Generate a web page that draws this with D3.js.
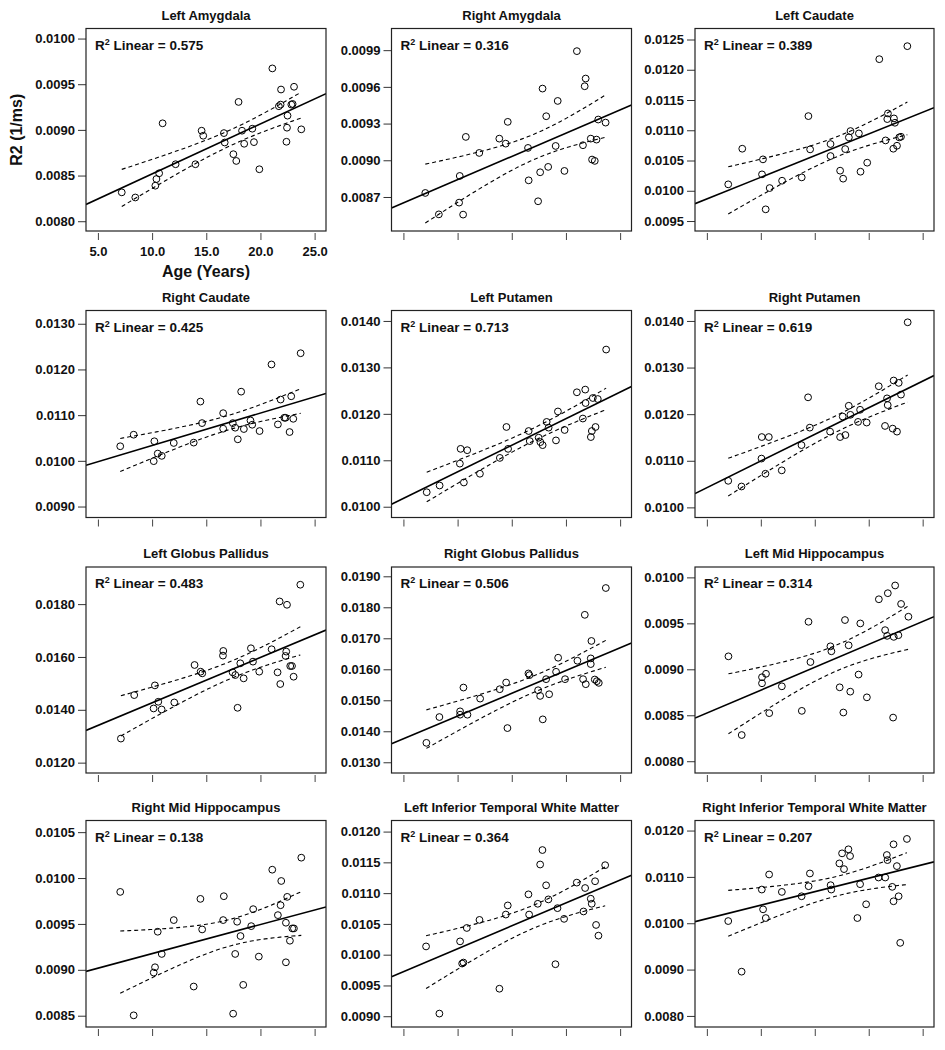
<!DOCTYPE html>
<html><head><meta charset="utf-8">
<script src="https://cdn.jsdelivr.net/npm/d3@7/dist/d3.min.js"></script>
<style>
body{margin:0;background:#fff;}
text{font-family:"Liberation Sans",Arial,sans-serif;fill:#111;}
</style></head>
<body><svg id="c" width="945" height="1050"></svg>
<script>
// ---- data: [age (years), R2 (1/ms)] ----
const leftAmygdala = [[7.2,0.008316],[8.45,0.00826],[10.3,0.008389],[10.4,0.008462],[10.65,0.008525],[10.97,0.009072],[12.17,0.008624],[14.0,0.008624],[14.57,0.008991],[14.72,0.008936],[16.63,0.008965],[16.7,0.008862],[17.5,0.008734],[17.77,0.00866],[17.98,0.009306],[18.3,0.008991],[18.5,0.008848],[19.25,0.009013],[19.4,0.008866],[19.9,0.008569],[21.1,0.009673],[21.7,0.009259],[21.9,0.009442],[21.86,0.009277],[22.45,0.009024],[22.4,0.00887],[22.5,0.009156],[22.85,0.009277],[23.1,0.009472],[22.97,0.009284],[23.77,0.009006]];
const rightAmygdala = [[7.02,0.008733],[8.27,0.008558],[10.2,0.008872],[10.14,0.008654],[10.51,0.008556],[10.76,0.009191],[12.0,0.00906],[13.85,0.009177],[14.44,0.009136],[14.63,0.009314],[16.5,0.009101],[16.56,0.008836],[17.43,0.008665],[17.62,0.008902],[17.84,0.009586],[18.18,0.00936],[18.36,0.008946],[19.05,0.009117],[19.24,0.009485],[19.86,0.008913],[21.01,0.009892],[21.57,0.009123],[21.73,0.009605],[21.82,0.009668],[22.29,0.009177],[22.41,0.009006],[22.66,0.008995],[22.82,0.009169],[22.98,0.009333],[23.66,0.009308]];
const leftCaudate = [[6.98,0.010106],[8.28,0.010695],[10.11,0.010271],[10.2,0.010519],[10.82,0.010045],[10.45,0.009693],[11.97,0.010166],[13.79,0.010221],[14.41,0.011234],[14.57,0.010684],[16.46,0.010772],[16.46,0.010574],[17.35,0.010332],[17.63,0.0102],[17.82,0.010689],[18.16,0.010882],[18.31,0.010987],[19.09,0.010948],[19.24,0.010315],[19.86,0.010464],[20.98,0.012175],[21.56,0.010832],[21.72,0.011185],[21.78,0.011278],[22.28,0.010695],[22.34,0.011196],[22.43,0.011124],[22.62,0.010744],[22.83,0.010882],[22.99,0.010893],[23.58,0.01239]];
const rightCaudate = [[7.06,0.010319],[8.3,0.010572],[10.21,0.010428],[10.52,0.010159],[10.89,0.010109],[10.15,0.009993],[12.0,0.010391],[13.84,0.010399],[14.46,0.011297],[14.61,0.010826],[16.56,0.011043],[16.56,0.010703],[17.45,0.010826],[17.67,0.010725],[17.91,0.010471],[18.22,0.011514],[18.47,0.010696],[19.08,0.010884],[19.24,0.01079],[19.92,0.010652],[21.02,0.012109],[21.61,0.010797],[21.86,0.011341],[22.2,0.010942],[22.32,0.010942],[22.69,0.01063],[22.84,0.011413],[23.03,0.01092],[23.71,0.012355]];
const leftPutamen = [[7.15,0.010312],[8.34,0.010457],[10.21,0.010928],[10.28,0.011246],[10.89,0.011217],[10.58,0.010522],[12.06,0.01071],[13.9,0.011051],[14.51,0.011717],[14.66,0.011246],[16.56,0.01163],[16.66,0.011413],[17.48,0.011486],[17.64,0.011391],[17.85,0.011326],[18.22,0.011826],[18.4,0.011703],[19.08,0.011428],[19.26,0.012051],[19.88,0.011652],[21.01,0.012464],[21.56,0.011899],[21.78,0.012522],[21.81,0.012232],[22.3,0.0115],[22.39,0.01163],[22.48,0.012341],[22.73,0.011717],[22.94,0.012319],[23.71,0.013384]];
const rightPutamen = [[6.98,0.01057],[8.21,0.010448],[10.09,0.011509],[10.74,0.011509],[10.06,0.011047],[10.43,0.010722],[11.94,0.010794],[13.77,0.011336],[14.38,0.012361],[14.54,0.011711],[16.42,0.011625],[17.35,0.011509],[17.84,0.011552],[17.59,0.011949],[18.15,0.01218],[18.3,0.011986],[19.01,0.011834],[19.2,0.012094],[19.81,0.01182],[20.93,0.012599],[21.51,0.011747],[21.7,0.012339],[21.76,0.012195],[22.22,0.01169],[22.31,0.012722],[22.62,0.011625],[22.78,0.012671],[22.99,0.012419],[23.61,0.013971]];
const leftGlobusPallidus = [[7.12,0.012911],[8.35,0.014557],[10.26,0.014924],[10.14,0.014051],[10.57,0.014304],[10.88,0.014013],[12.05,0.014278],[13.92,0.015696],[14.48,0.015443],[14.63,0.01538],[16.57,0.016228],[16.54,0.016051],[17.43,0.015418],[17.68,0.015316],[17.89,0.014076],[18.14,0.01576],[18.45,0.01519],[19.12,0.016329],[19.31,0.015823],[19.89,0.015443],[21.03,0.016291],[21.58,0.015418],[21.83,0.014975],[21.77,0.018101],[22.38,0.016203],[22.45,0.017975],[22.32,0.016038],[22.75,0.015658],[22.91,0.015658],[23.06,0.015253],[23.68,0.018734]];
const rightGlobusPallidus = [[7.12,0.013627],[8.32,0.014459],[10.23,0.014643],[10.23,0.014535],[10.54,0.015411],[10.91,0.014535],[12.08,0.015054],[13.89,0.015357],[14.48,0.015573],[14.6,0.014103],[16.54,0.015865],[16.63,0.015811],[17.43,0.015324],[17.62,0.015141],[17.86,0.014384],[18.17,0.015681],[18.45,0.015195],[19.09,0.015919],[19.28,0.016373],[19.92,0.015681],[21.06,0.016276],[21.74,0.017757],[21.58,0.015681],[21.83,0.015519],[22.29,0.016168],[22.35,0.016914],[22.29,0.016351],[22.66,0.01567],[22.85,0.015616],[23.03,0.015562],[23.68,0.018622]];
const leftMidHippocampus = [[7.0,0.009141],[8.23,0.008285],[10.11,0.008848],[10.48,0.008951],[10.11,0.008914],[10.78,0.008523],[11.95,0.008815],[13.8,0.008548],[14.42,0.009517],[14.6,0.009079],[16.45,0.00925],[16.54,0.009196],[17.31,0.008804],[17.65,0.00853],[17.8,0.009536],[18.14,0.009261],[18.29,0.008757],[19.06,0.008943],[19.22,0.009499],[19.83,0.008695],[20.94,0.009762],[21.52,0.009426],[21.77,0.009828],[21.71,0.009364],[22.26,0.008475],[22.32,0.009353],[22.45,0.009912],[22.75,0.009371],[23.0,0.009711],[23.68,0.009572]];
const rightMidHippocampus = [[7.06,0.009849],[8.3,0.008504],[10.52,0.009415],[10.89,0.009173],[10.27,0.009028],[10.15,0.00897],[12.0,0.009542],[13.84,0.008818],[14.46,0.009773],[14.62,0.00944],[16.62,0.009802],[16.56,0.009542],[17.48,0.008522],[17.67,0.009173],[17.85,0.009524],[18.16,0.009368],[18.41,0.008836],[19.15,0.009476],[19.33,0.009661],[19.85,0.009144],[21.09,0.010091],[21.61,0.009596],[21.86,0.009704],[21.92,0.009968],[22.35,0.009513],[22.35,0.009082],[22.47,0.009795],[22.72,0.009317],[22.94,0.009451],[23.09,0.009451],[23.77,0.010222]];
const leftInfTemporalWM = [[7.09,0.010134],[8.32,0.009043],[10.23,0.010216],[10.42,0.009856],[10.54,0.009872],[10.85,0.010434],[12.02,0.010565],[13.86,0.009447],[14.45,0.010652],[14.63,0.0108],[16.54,0.01098],[16.6,0.010652],[17.4,0.010827],[17.62,0.011465],[17.83,0.0117],[18.17,0.011127],[18.38,0.010898],[19.03,0.009845],[19.22,0.010756],[19.83,0.010582],[21.0,0.011171],[21.62,0.010702],[21.77,0.011083],[22.29,0.010909],[22.38,0.010827],[22.69,0.011193],[22.78,0.010483],[23.0,0.010309],[23.62,0.011454]];
const rightInfTemporalWM = [[6.98,0.010047],[8.22,0.008955],[10.09,0.010727],[10.77,0.011052],[10.21,0.0103],[10.46,0.010112],[11.95,0.010676],[13.78,0.010582],[14.43,0.010799],[14.55,0.011074],[16.47,0.010821],[16.53,0.010727],[17.28,0.011291],[17.53,0.011508],[17.71,0.011168],[18.12,0.011595],[18.27,0.01145],[18.95,0.010112],[19.2,0.010843],[19.76,0.010409],[20.91,0.010987],[21.53,0.010987],[21.68,0.011472],[21.74,0.011363],[22.18,0.010785],[22.3,0.010474],[22.3,0.011703],[22.61,0.011233],[22.77,0.010582],[22.92,0.009577],[23.54,0.011819]];

const panelTitles = ["Left Amygdala","Right Amygdala","Left Caudate","Right Caudate","Left Putamen","Right Putamen","Left Globus Pallidus","Right Globus Pallidus","Left Mid Hippocampus","Right Mid Hippocampus","Left Inferior Temporal White Matter","Right Inferior Temporal White Matter"];
const r2Values = ["0.575","0.316","0.389","0.425","0.713","0.619","0.483","0.506","0.314","0.138","0.364","0.207"];
const yTickLists = [
  [0.0080,0.0085,0.0090,0.0095,0.0100],
  [0.0087,0.0090,0.0093,0.0096,0.0099],
  [0.0095,0.0100,0.0105,0.0110,0.0115,0.0120,0.0125],
  [0.0090,0.0100,0.0110,0.0120,0.0130],
  [0.0100,0.0110,0.0120,0.0130,0.0140],
  [0.0100,0.0110,0.0120,0.0130,0.0140],
  [0.0120,0.0140,0.0160,0.0180],
  [0.0130,0.0140,0.0150,0.0160,0.0170,0.0180,0.0190],
  [0.0080,0.0085,0.0090,0.0095,0.0100],
  [0.0085,0.0090,0.0095,0.0100,0.0105],
  [0.0090,0.0095,0.0100,0.0105,0.0110,0.0115,0.0120],
  [0.0080,0.0090,0.0100,0.0110,0.0120]
];
const yDomains = [
  [0.007893,0.01011],[0.008422,0.010077],[0.009335,0.012682],
  [0.00876,0.01329],[0.009768,0.014225],[0.009783,0.014224],
  [0.011608,0.019405],[0.012654,0.0193],[0.007872,0.010113],
  [0.008377,0.010627],[0.008825,0.01218],[0.007761,0.012217]
];
const xDomain = [3.9, 26.05];
const xTicks = [5,10,15,20,25];
const xTickLabels = ["5.0","10.0","15.0","20.0","25.0"];
const tCrit = 2.045; // 95% CI of the mean fit
const series = [leftAmygdala,rightAmygdala,leftCaudate,rightCaudate,leftPutamen,rightPutamen,leftGlobusPallidus,rightGlobusPallidus,leftMidHippocampus,rightMidHippocampus,leftInfTemporalWM,rightInfTemporalWM];

// ---- layout ----
const colX = [[86,326],[391.5,631.5],[695,934]];
const rowY = [[28.5,231],[310.5,517.5],[567,773],[820.5,1027]];

const svg = d3.select("#c");
svg.append("rect").attr("width",945).attr("height",1050).attr("fill","#fff");

function fit(data){
  const n=data.length, mx=d3.mean(data,d=>d[0]), my=d3.mean(data,d=>d[1]);
  let sxx=0,sxy=0; data.forEach(d=>{sxx+=(d[0]-mx)**2; sxy+=(d[0]-mx)*(d[1]-my);});
  const b=sxy/sxx, a=my-b*mx;
  let sse=0; data.forEach(d=>{sse+=(d[1]-a-b*d[0])**2;});
  const s=Math.sqrt(sse/(n-2));
  return {a,b,s,n,mx,sxx};
}

series.forEach((data,i)=>{
  const c=i%3, r=Math.floor(i/3);
  const [x0,x1]=colX[c], [y0,y1]=rowY[r];
  const x=d3.scaleLinear().domain(xDomain).range([x0,x1]);
  const y=d3.scaleLinear().domain(yDomains[i]).range([y1,y0]);
  const g=svg.append("g");
  const clipId="clip"+i;
  g.append("clipPath").attr("id",clipId).append("rect").attr("x",x0).attr("y",y0).attr("width",x1-x0).attr("height",y1-y0);

  // title
  g.append("text").attr("x",(x0+x1)/2).attr("y",y0-9).attr("text-anchor","middle")
    .attr("font-size",13).attr("font-weight","bold").text(panelTitles[i]);

  // y axis
  const ya=g.append("g").attr("transform",`translate(${x0},0)`)
    .call(d3.axisLeft(y).tickValues(yTickLists[i]).tickFormat(d3.format(".4f")).tickSize(8).tickPadding(3));
  ya.select(".domain").remove();
  ya.selectAll("line").attr("stroke","#333");
  ya.selectAll("text").attr("font-size",13).attr("font-weight","bold").attr("font-family","Liberation Sans, Arial, sans-serif").attr("fill","#111");

  // x axis (ticks below frame, gap)
  const xa=g.append("g").attr("transform",`translate(0,${y1+2})`)
    .call(d3.axisBottom(x).tickValues(xTicks).tickSize(7).tickFormat((d,k)=> i===0?xTickLabels[k]:""));
  xa.select(".domain").remove();
  xa.selectAll("line").attr("stroke","#444");
  xa.selectAll("text").attr("font-size",13).attr("font-weight","bold").attr("font-family","Liberation Sans, Arial, sans-serif").attr("fill","#111").attr("dy","1.0em");

  // regression + CI
  const f=fit(data);
  const pg=g.append("g").attr("clip-path",`url(#${clipId})`);
  pg.append("line").attr("x1",x(xDomain[0])).attr("x2",x(xDomain[1]))
    .attr("y1",y(f.a+f.b*xDomain[0])).attr("y2",y(f.a+f.b*xDomain[1]))
    .attr("stroke","#000").attr("stroke-width",1.6);
  const ext=d3.extent(data,d=>d[0]);
  const xs=d3.range(0,61).map(k=>ext[0]+(ext[1]-ext[0])*k/60);
  [1,-1].forEach(sg=>{
    const pts=xs.map(xv=>{
      const se=f.s*Math.sqrt(1/f.n+(xv-f.mx)**2/f.sxx);
      return [xv,f.a+f.b*xv+sg*tCrit*se];
    });
    pg.append("path").attr("d",d3.line().x(d=>x(d[0])).y(d=>y(d[1]))(pts))
      .attr("fill","none").attr("stroke","#000").attr("stroke-width",1.1).attr("stroke-dasharray","4,3");
  });

  // points
  pg.selectAll("circle").data(data).join("circle")
    .attr("cx",d=>x(d[0])).attr("cy",d=>y(d[1])).attr("r",3.4)
    .attr("fill","none").attr("stroke","#000").attr("stroke-width",1);

  // frame
  g.append("rect").attr("x",x0).attr("y",y0).attr("width",x1-x0).attr("height",y1-y0)
    .attr("fill","none").attr("stroke","#222").attr("stroke-width",1.2);

  // R2 label
  const t=g.append("text").attr("x",x0+9).attr("y",y0+21).attr("font-size",13.5).attr("font-weight","bold");
  t.append("tspan").text("R");
  t.append("tspan").attr("font-size",9).attr("dy",-5).text("2");
  t.append("tspan").attr("dy",5).text(" Linear = "+r2Values[i]);

  if(i===0){
    g.append("text").attr("transform",`translate(${x0-64},${(y0+y1)/2}) rotate(-90)`)
      .attr("text-anchor","middle").attr("font-size",16).attr("font-weight","bold").text("R2 (1/ms)");
    g.append("text").attr("x",(x0+x1)/2).attr("y",y1+46).attr("text-anchor","middle")
      .attr("font-size",16).attr("font-weight","bold").text("Age (Years)");
  }
});
</script></body></html>
